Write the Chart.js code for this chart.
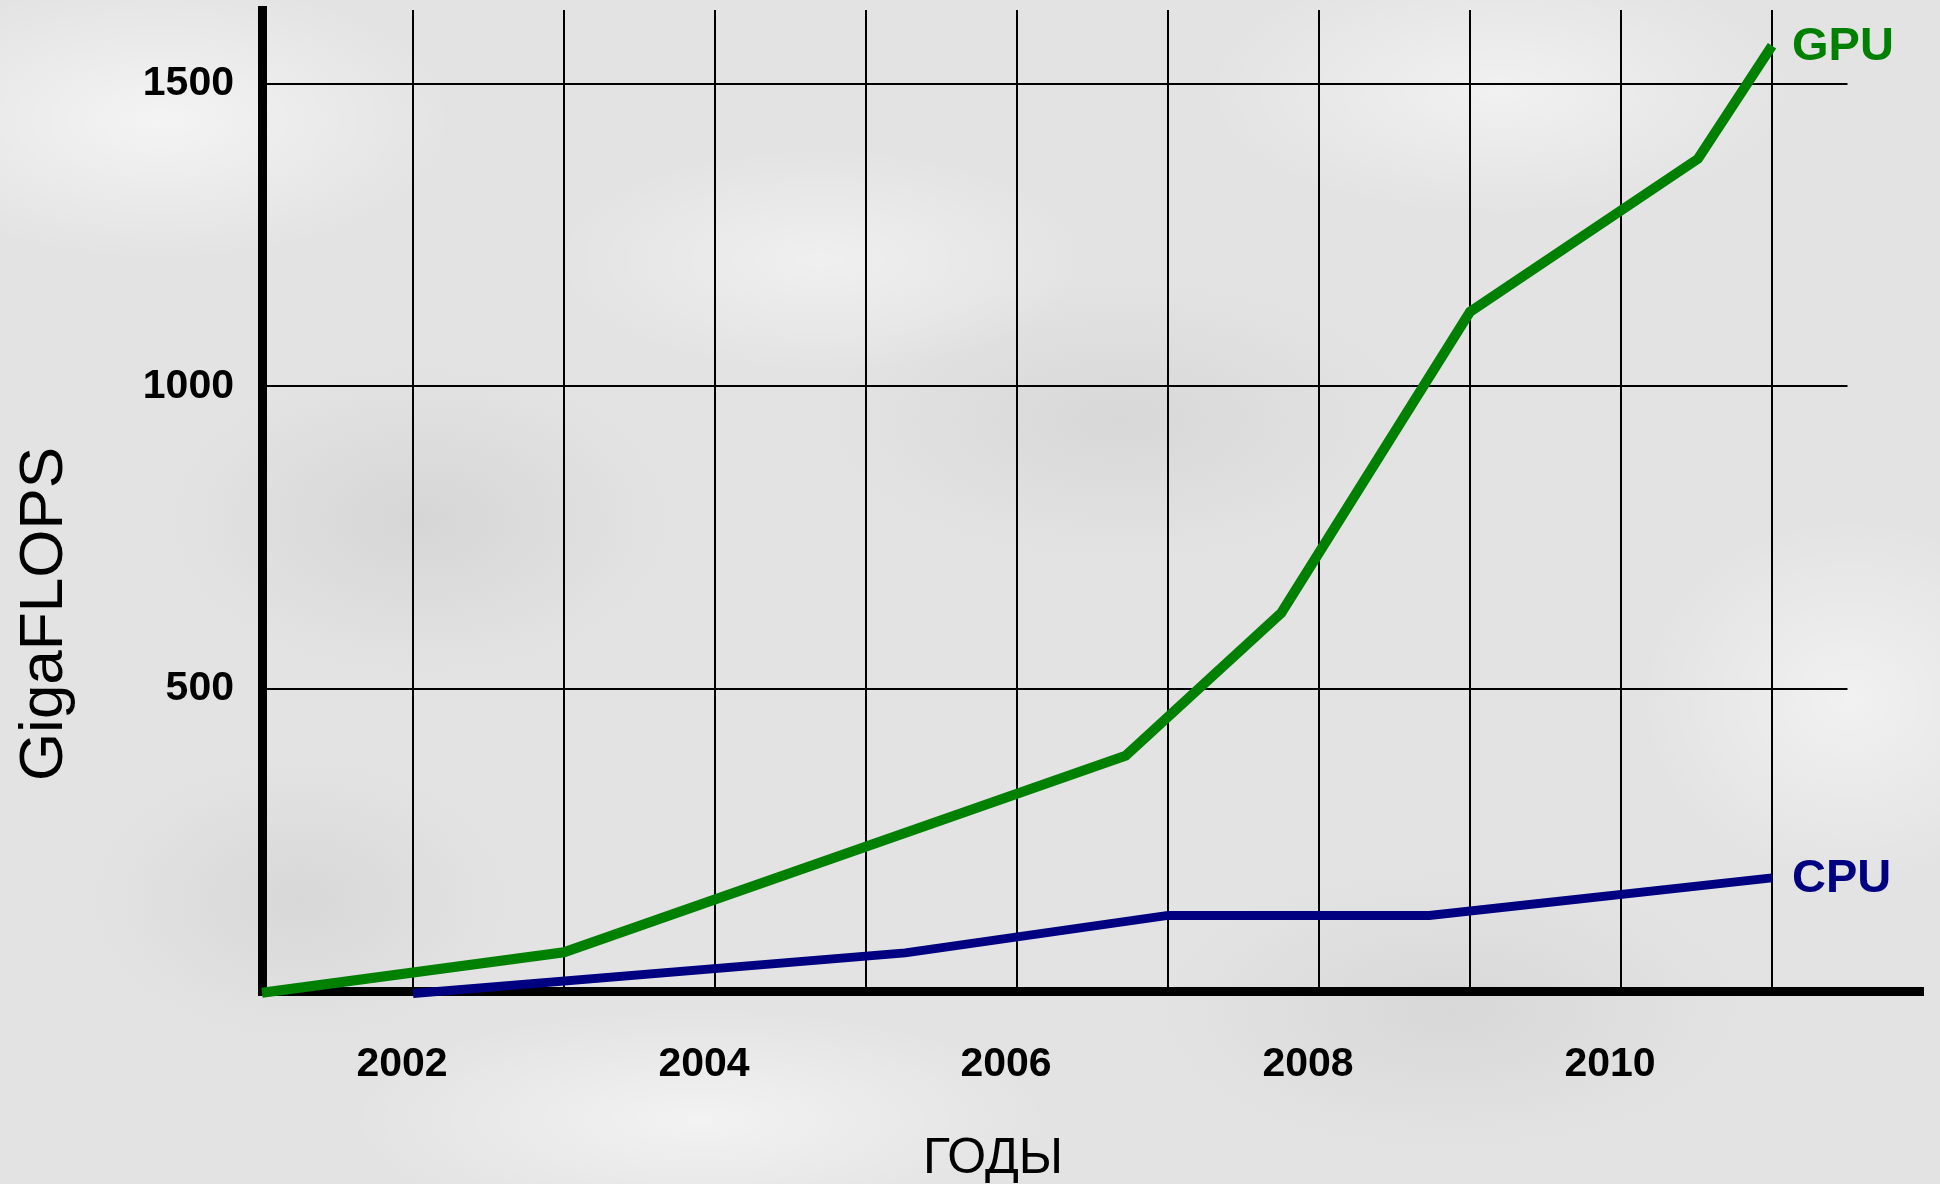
<!DOCTYPE html>
<html>
<head>
<meta charset="utf-8">
<script src="https://cdn.jsdelivr.net/npm/chart.js@4.4.1/dist/chart.umd.min.js"></script>
<style>
  html, body { margin: 0; padding: 0; }
  body {
    width: 1940px;
    height: 1184px;
    overflow: hidden;
    background-color: #e3e3e3;
    background-image:
      radial-gradient(ellipse 420px 200px at 160px 120px, rgba(255,255,255,0.6), rgba(255,255,255,0) 70%),
      radial-gradient(ellipse 380px 160px at 820px 260px, rgba(255,255,255,0.45), rgba(255,255,255,0) 70%),
      radial-gradient(ellipse 420px 180px at 1500px 90px, rgba(255,255,255,0.5), rgba(255,255,255,0) 70%),
      radial-gradient(ellipse 500px 160px at 700px 1120px, rgba(255,255,255,0.55), rgba(255,255,255,0) 70%),
      radial-gradient(ellipse 300px 260px at 1850px 700px, rgba(255,255,255,0.5), rgba(255,255,255,0) 70%),
      radial-gradient(ellipse 360px 220px at 420px 520px, rgba(190,190,190,0.35), rgba(190,190,190,0) 70%),
      radial-gradient(ellipse 420px 200px at 1120px 420px, rgba(190,190,190,0.3), rgba(190,190,190,0) 70%),
      radial-gradient(ellipse 420px 200px at 1450px 1010px, rgba(190,190,190,0.3), rgba(190,190,190,0) 70%),
      radial-gradient(ellipse 300px 200px at 300px 900px, rgba(190,190,190,0.3), rgba(190,190,190,0) 70%);
  }
  canvas { display: block; }
</style>
</head>
<body>
<canvas id="myChart" width="1940" height="1184"></canvas>
<script>
// GPU / CPU peak performance (year, GigaFLOPS)
const gpuYears = [2001, 2003, 2006.72, 2007.75, 2009, 2010.51, 2011];
const gpuValues = [-3, 64, 389, 625, 1123, 1376, 1563];
const cpuYears = [2002, 2005.26, 2007, 2008.73, 2011];
const cpuValues = [-4, 63, 125, 125, 187];

const gridYears = [2002, 2003, 2004, 2005, 2006, 2007, 2008, 2009, 2010, 2011];
const yearLabels = ['2002', '2004', '2006', '2008', '2010'];
const valueTicks = [500, 1000, 1500];

const FONT = "'Liberation Sans', Arial, sans-serif";

const ctx = document.getElementById('myChart').getContext('2d');

// horizontal grid stops short of the axis end; titles and series names
const extras = {
  id: 'extras',
  beforeDatasetsDraw(chart) {
    const { ctx, scales: { x, y } } = chart;
    const left = x.getPixelForValue(2001);
    const right = x.getPixelForValue(2011.5);
    ctx.save();
    ctx.strokeStyle = '#000';
    ctx.lineWidth = 2;
    valueTicks.forEach(v => {
      const py = Math.round(y.getPixelForValue(v));
      ctx.beginPath();
      ctx.moveTo(left, py);
      ctx.lineTo(right, py);
      ctx.stroke();
    });
    ctx.restore();
  },
  afterDraw(chart) {
    const { ctx } = chart;
    ctx.save();
    ctx.fillStyle = '#000';
    ctx.textBaseline = 'alphabetic';

    ctx.font = '62px ' + FONT;
    ctx.translate(62, 614);
    ctx.rotate(-Math.PI / 2);
    ctx.textAlign = 'center';
    ctx.fillText('GigaFLOPS', 0, 0);
    ctx.setTransform(1, 0, 0, 1, 0, 0);

    ctx.font = '50px ' + FONT;
    ctx.fillText('ГОДЫ', 993, 1173);

    ctx.textAlign = 'left';
    ctx.font = 'bold 47px ' + FONT;
    chart.data.datasets.forEach((ds, i) => {
      const pts = chart.getDatasetMeta(i).data;
      const last = pts[pts.length - 1];
      ctx.fillStyle = ds.borderColor;
      ctx.fillText(ds.label, last.x + 20, last.y + 14);
    });
    ctx.restore();
  }
};

new Chart(ctx, {
  type: 'line',
  data: {
    datasets: [{
      label: 'GPU',
      data: gpuYears.map((yr, i) => ({ x: yr, y: gpuValues[i] })),
      borderColor: '#008000',
      borderWidth: 10,
      pointRadius: 0,
      tension: 0,
      clip: false
    }, {
      label: 'CPU',
      data: cpuYears.map((yr, i) => ({ x: yr, y: cpuValues[i] })),
      borderColor: '#000080',
      borderWidth: 9,
      pointRadius: 0,
      tension: 0,
      clip: false
    }]
  },
  options: {
    responsive: false,
    animation: false,
    layout: { padding: { top: 10, right: 17, left: 0, bottom: 0 } },
    plugins: {
      legend: { display: false },
      tooltip: { enabled: false }
    },
    scales: {
      x: {
        type: 'linear',
        min: 2001,
        max: 2012,
        afterBuildTicks: s => { s.ticks = gridYears.map(v => ({ value: v })); },
        afterFit: s => {
          s.height = 193;
          s.paddingLeft = 0;
          s.paddingRight = 0;
        },
        grid: { color: '#000', lineWidth: 2, drawTicks: false },
        border: { display: true, color: '#000', width: 9 },
        ticks: {
          autoSkip: false,
          maxRotation: 0,
          padding: 49,
          labelOffset: -11,
          color: '#000',
          font: { family: FONT, size: 41, weight: 'bold' },
          callback: v => yearLabels.includes(String(v)) ? String(v) : ''
        }
      },
      y: {
        min: 0,
        max: 1622,
        afterBuildTicks: s => { s.ticks = valueTicks.map(v => ({ value: v })); },
        afterFit: s => {
          s.width = 262;
          s.paddingTop = 0;
          s.paddingBottom = 0;
        },
        grid: { display: false },
        border: { display: true, color: '#000', width: 9 },
        ticks: {
          padding: 20,
          color: '#000',
          font: { family: FONT, size: 41, weight: 'bold' },
          callback: v => String(v)
        }
      }
    }
  },
  plugins: [extras]
});
</script>
</body>
</html>
